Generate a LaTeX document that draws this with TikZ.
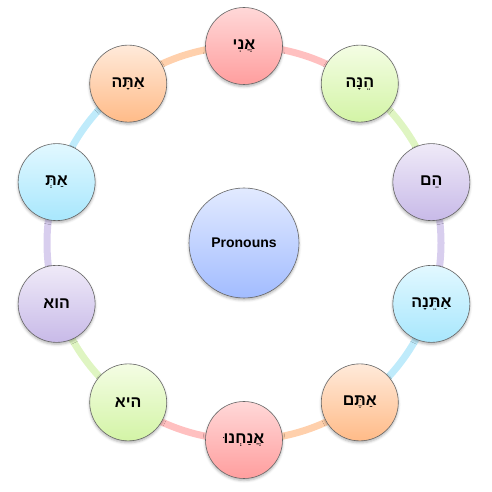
\documentclass[tikz,border=0pt]{standalone}
\usepackage{fontspec}
\setmainfont{Liberation Sans}
\newfontfamily\heb[Script=Hebrew]{Liberation Sans}
\TeXXeTstate=1
\usetikzlibrary{shadows.blur}
\definecolor{rdT}{HTML}{FFD8D8}\definecolor{rdB}{HTML}{FF9E9E}\definecolor{rdA}{HTML}{FFC0C0}
\definecolor{grT}{HTML}{F4FDE4}\definecolor{grB}{HTML}{D3F4A6}\definecolor{grA}{HTML}{DFF5C2}
\definecolor{puT}{HTML}{EFEAF8}\definecolor{puB}{HTML}{C8BAE8}\definecolor{puA}{HTML}{D8CEEE}
\definecolor{cyT}{HTML}{E2F8FF}\definecolor{cyB}{HTML}{A8E7FD}\definecolor{cyA}{HTML}{BFEBFB}
\definecolor{orT}{HTML}{FFEADA}\definecolor{orB}{HTML}{FFBB88}\definecolor{orA}{HTML}{FFD0AC}
\definecolor{blT}{HTML}{E2EAFF}\definecolor{blB}{HTML}{A2BCFF}
\begin{document}
\begin{tikzpicture}[x=1pt,y=1pt,
  pc/.style={circle, minimum size=77pt, inner sep=0pt, draw=black!60, line width=0.6pt,
    top color=#1T, bottom color=#1B,
    blur shadow={shadow xshift=0pt, shadow yshift=-2pt, shadow blur radius=2.5pt, shadow opacity=30},
    font=\heb\bfseries\fontsize{16}{19}\selectfont},
  ringarc/.style={line width=7pt, draw=#1A}]
\useasboundingbox (0,0) rectangle (491,492);
\begin{scope}[shift={(244,249)}]
\foreach \i in {0,...,9}{
  \coordinate (p\i) at ({90-36*\i}:197);
}
\foreach \i/\c in {0/rd,1/gr,2/pu,3/cy,4/or,5/rd,6/gr,7/pu,8/cy,9/or}{
  \draw[ringarc=\c] (p\i) arc[start angle={90-36*\i}, end angle={54-36*\i}, radius=197];
}
\node[pc=bl, minimum size=110pt, font=\bfseries\fontsize{14}{17}\selectfont] (c) at (0,0) {Pronouns};
\foreach \i/\c/\t in {0/rd/{אֲנִי},1/gr/{הֵנָּה},2/pu/{הֵם},3/cy/{אַתֵּנָה},4/or/{אַתֶּם},5/rd/{אֲנַחְנוּ},6/gr/{היא},7/pu/{הוא},8/cy/{אַתְּ},9/or/{אַתָּה}}{
  \node[pc=\c] (n\i) at (p\i) {\beginR\t\endR};
}
\end{scope}
\end{tikzpicture}
\end{document}
